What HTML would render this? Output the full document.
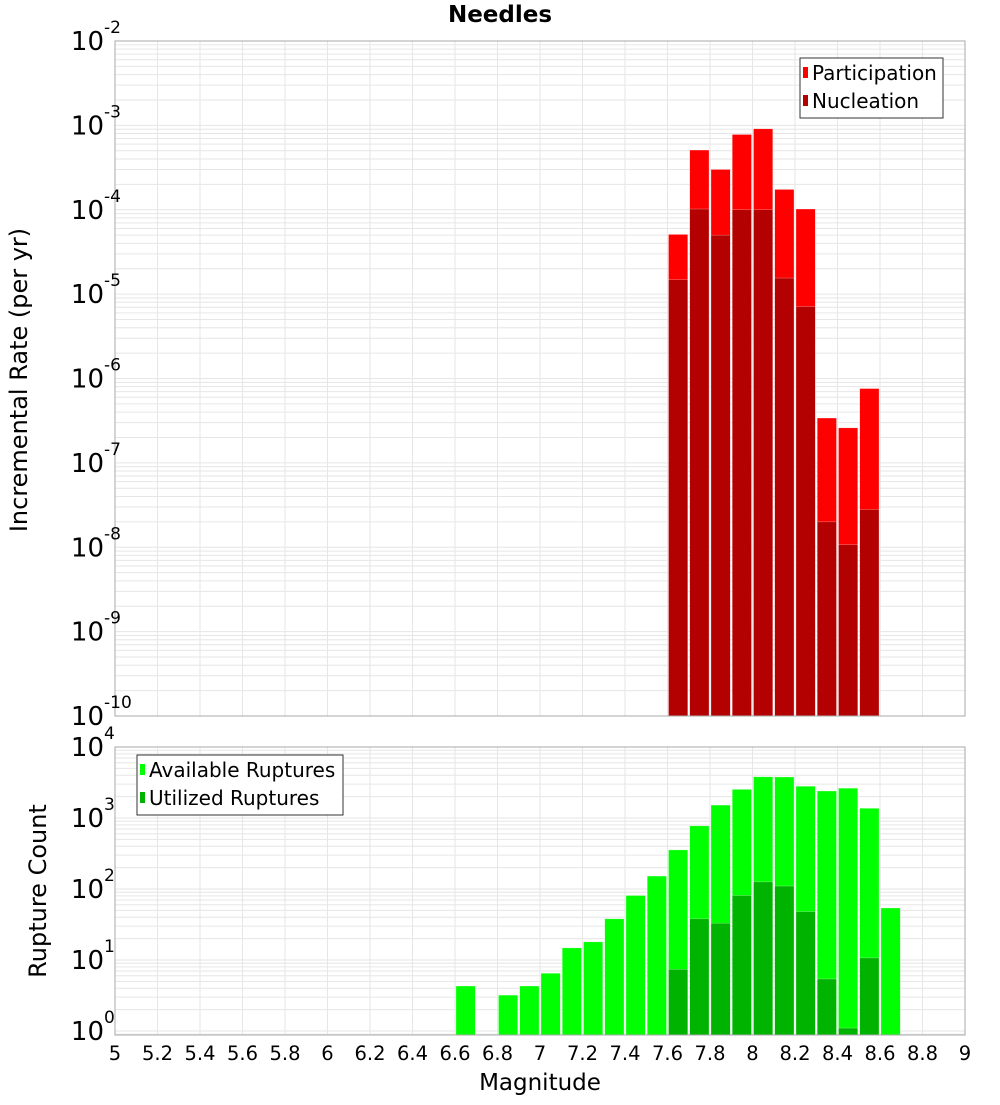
<!DOCTYPE html>
<html><head><meta charset="utf-8"><style>
body{margin:0;background:#fff;font-family:"Liberation Sans","DejaVu Sans",sans-serif;}
svg text{font-family:"DejaVu Sans","Liberation Sans",sans-serif;}
</style></head><body>
<svg id="c" width="1000" height="1100" xmlns="http://www.w3.org/2000/svg">
<text x="500" y="22" text-anchor="middle" font-size="23" font-weight="bold">Needles</text>
<text transform="translate(27,380) rotate(-90)" text-anchor="middle" font-size="24">Incremental Rate (per yr)</text>
<text transform="translate(46,891) rotate(-90)" text-anchor="middle" font-size="24">Rupture Count</text>
<text x="540" y="1090" text-anchor="middle" font-size="23">Magnitude</text>
<g id="g"></g>
</svg>
<script>
const bins = [6.6,6.7,6.8,6.9,7.0,7.1,7.2,7.3,7.4,7.5,7.6,7.7,7.8,7.9,8.0,8.1,8.2,8.3,8.4,8.5,8.6];
const participation = [0,0,0,0,0,0,0,0,0,0,5.1e-5,5.1e-4,3.0e-4,7.8e-4,9.1e-4,1.74e-4,1.02e-4,3.4e-7,2.6e-7,7.6e-7,0];
const nucleation = [0,0,0,0,0,0,0,0,0,0,1.48e-5,1.02e-4,5.0e-5,1.0e-4,1.0e-4,1.55e-5,7.1e-6,2.0e-8,1.07e-8,2.8e-8,0];
const available = [4.3,0,3.2,4.3,6.5,14.8,18,38,81,152,355,775,1520,2530,3800,3780,2800,2400,2630,1370,54];
const utilized = [0,0,0,0,0,0,0,0,0,0,7.4,38,33,81,126,110,48,5.4,1.1,10.7,0];
const xTicks = [5,5.2,5.4,5.6,5.8,6,6.2,6.4,6.6,6.8,7,7.2,7.4,7.6,7.8,8,8.2,8.4,8.6,8.8,9];
const topExps = [-10,-9,-8,-7,-6,-5,-4,-3,-2];
const botExps = [0,1,2,3,4];

const NS="http://www.w3.org/2000/svg";
const g=document.getElementById('g');
function el(t,a,p){const e=document.createElementNS(NS,t);for(const k in a)e.setAttribute(k,a[k]);(p||g).appendChild(e);return e;}
const X0=115,X1=965;
const x=m=>X0+(m-5)/4*(X1-X0);
const T={top:41,bot:716,lo:-10,hi:-2};
const B={top:747,bot:1035,lo:-0.0563,hi:4};
const y=(P,v)=>P.bot-(Math.log10(v)-P.lo)/(P.hi-P.lo)*(P.bot-P.top);

function panel(P,name){
  const grid=el('g',{});
  
  
  for(let m=5;m<=9.001;m+=0.2){el('line',{x1:x(m),x2:x(m),y1:P.top,y2:P.bot,stroke:'#e6e6e6','stroke-width':1},grid);}
  for(let e=Math.floor(P.lo);e<P.hi;e++)for(let k=1;k<10;k++){const v=k*Math.pow(10,e);const lv=Math.log10(v);if(lv<P.lo||lv>P.hi)continue;const yy=y(P,v);el('line',{x1:X0,x2:X1,y1:yy,y2:yy,stroke:'#e6e6e6','stroke-width':1},grid);}
}
panel(T,'top');panel(B,'bottom');

function bars(P,vals,color,name){
  vals.forEach((v,i)=>{if(!(v>0))return;const m=bins[i];const yy=Math.max(P.top,y(P,v));
    const r=el('rect',{x:x(m)+1,y:yy,width:x(m+0.1)-x(m)-2,height:P.bot-yy,fill:color,stroke:'#fff','stroke-opacity':0.5,'stroke-width':0.5});
    
    
  });
}
bars(T,participation,'#ff0000','participation');
bars(T,nucleation,'#b30000','nucleation');
bars(B,available,'#00ff00','available');
bars(B,utilized,'#00b300','utilized');

el('rect',{x:X0,y:T.top,width:X1-X0,height:T.bot-T.top,fill:'none',stroke:'#aaa'});
el('rect',{x:X0,y:B.top,width:X1-X0,height:B.bot-B.top,fill:'none',stroke:'#aaa'});

function ylabels(P,exps,name){
  exps.forEach(e=>{const yy=y(P,Math.pow(10,e));
    const t=el('text',{x:104,y:yy+9,'text-anchor':'end','font-size':26});
    
    
    t.textContent='10';
    const s=el('text',{x:104,y:yy-8,'font-size':17});
    
    
    s.textContent=String(e);
  });
}
ylabels(T,topExps,'top');ylabels(B,botExps,'bottom');

xTicks.forEach(m=>{const t=el('text',{x:x(m),y:1060,'text-anchor':'middle','font-size':19.5});
  
  
  t.textContent=String(m);});

function legend(x0,y0,w,items,name){
  const lg=el('g',{});
  
  
  el('rect',{x:x0,y:y0,width:w,height:60,fill:'#fff',stroke:'#333'},lg);
  items.forEach((it,i)=>{const cy=y0+15+i*28;
    el('rect',{x:x0+3,y:cy-6,width:5,height:11,fill:it[1]},lg);
    const t=el('text',{x:x0+12,y:cy+7,'font-size':20},lg);
    
    
    t.textContent=it[0];});
}
legend(800,58,143,[['Participation','#ff0000'],['Nucleation','#b30000']],'top-legend');
legend(137,755,206,[['Available Ruptures','#00ff00'],['Utilized Ruptures','#00b300']],'bottom-legend');
</script>
</body></html>
